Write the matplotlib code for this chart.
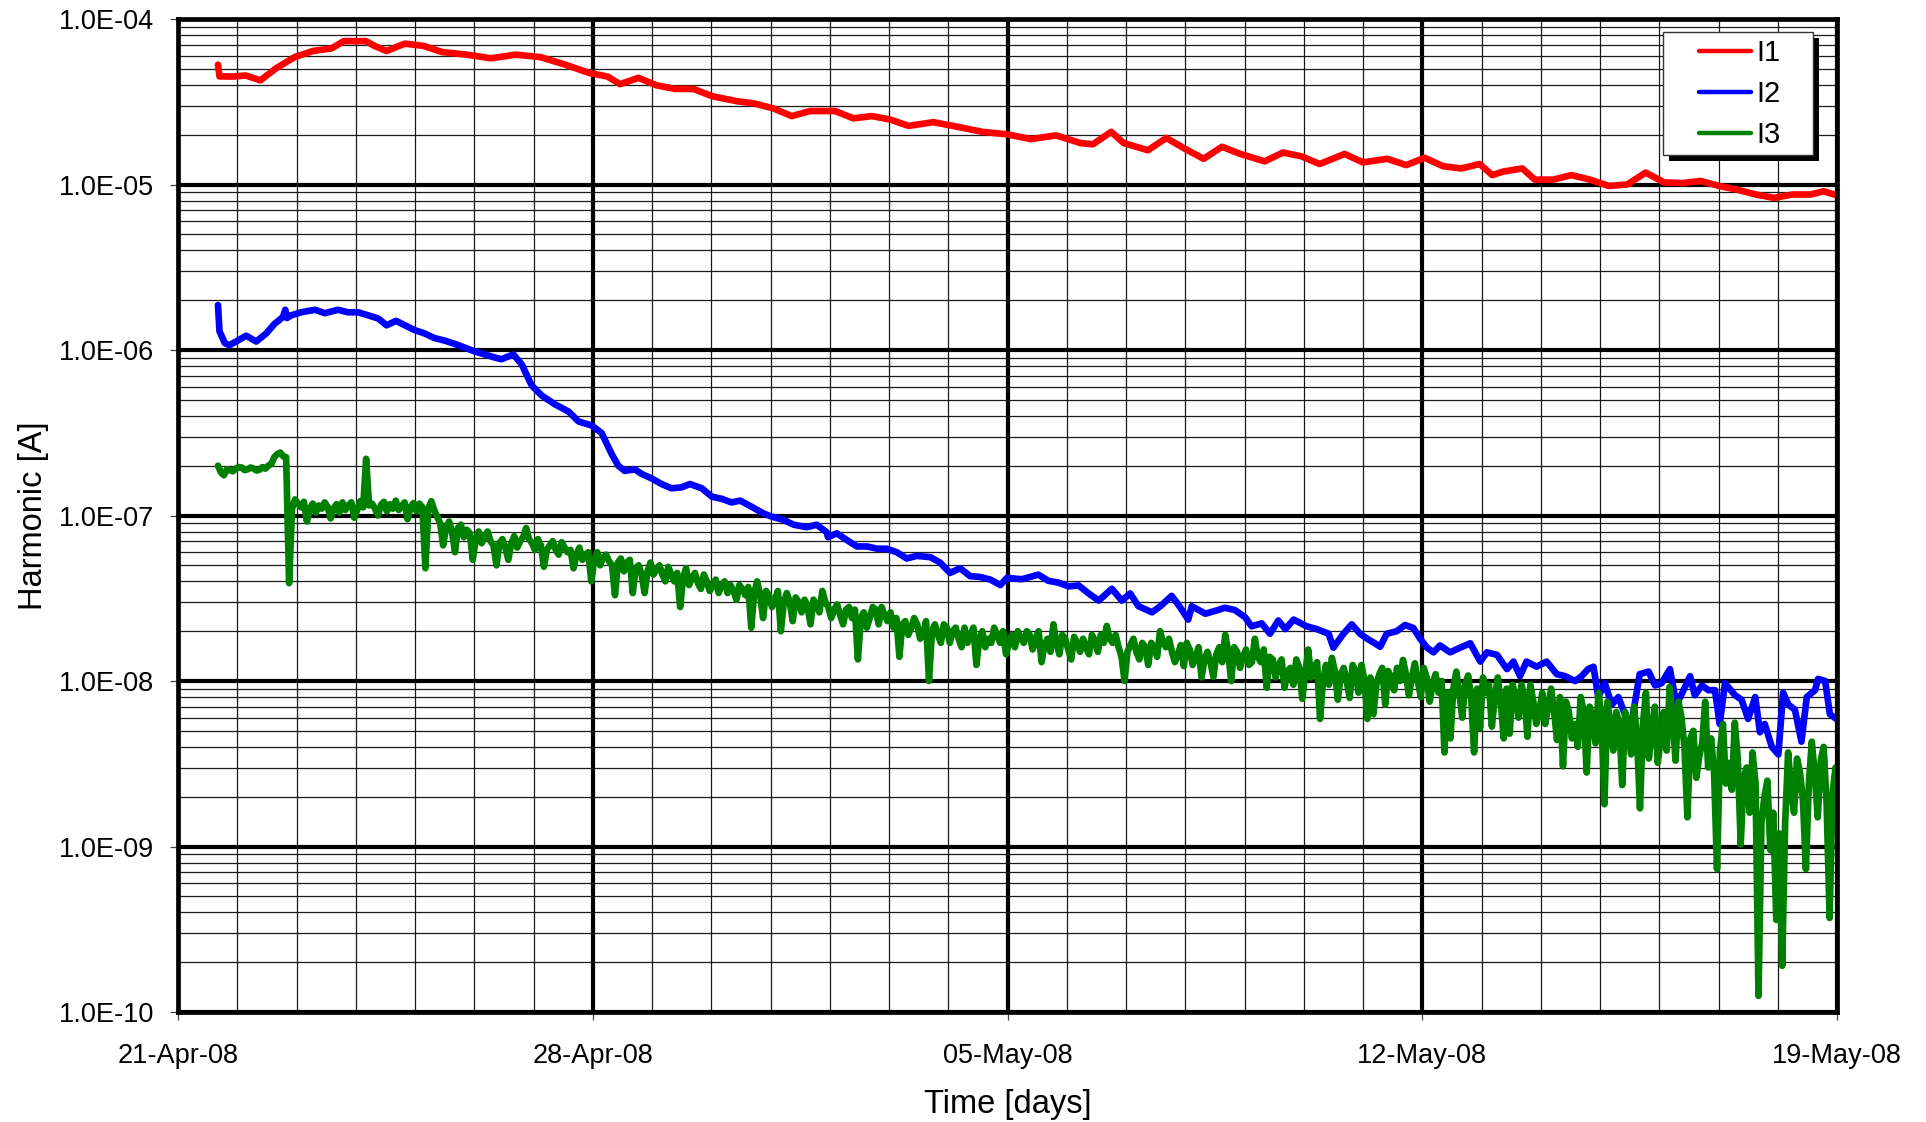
import numpy as np
import matplotlib
matplotlib.use("Agg")
import matplotlib.pyplot as plt
import matplotlib.dates as mdates
from matplotlib.ticker import LogLocator, FuncFormatter, FixedLocator, MultipleLocator, NullFormatter
from matplotlib.patches import Rectangle
from matplotlib.lines import Line2D
from datetime import datetime

plt.rcParams['font.family'] = ['Liberation Sans', 'DejaVu Sans']

# ---------------------------------------------------------------- data
START = datetime(2008, 4, 21)          # left edge of the time axis
SPAN_DAYS = 28
week_ticks = [0, 7, 14, 21, 28]         # labelled dates (days after START)

series_names = ["I1", "I2", "I3"]
series_colors = ["#FF0000", "#0000FF", "#008000"]

# I1 - elapsed days / amplitude in microampere
i1_day = [0.675, 0.70, 0.93, 1.14, 1.39, 1.66, 1.97, 2.28, 2.59, 2.80,
          3.17, 3.32, 3.52, 3.83, 4.15, 4.46, 4.87, 5.28, 5.70, 6.11,
          6.53, 6.94, 7.25, 7.46, 7.77, 8.08, 8.39, 8.70, 9.02, 9.43,
          9.74, 10.05, 10.36, 10.67, 11.09, 11.40, 11.71, 12.02, 12.33, 12.75,
          13.16, 13.58, 13.99, 14.40, 14.82, 15.23, 15.44, 15.75, 15.96, 16.37,
          16.68, 17.00, 17.31, 17.62, 17.93, 18.34, 18.65, 18.96, 19.27, 19.69,
          20.00, 20.41, 20.73, 21.04, 21.35, 21.66, 21.97, 22.18, 22.38, 22.69,
          22.90, 23.21, 23.52, 23.83, 24.15, 24.46, 24.77, 25.08, 25.39, 25.70,
          26.01, 26.32, 26.63, 26.94, 27.25, 27.56, 27.77, 28.00]
i1_uA = [53, 45, 44.9, 45.6, 42.6, 50.5, 58.9, 64.1, 66.4, 73.5,
         73.5, 68.7, 64.1, 71, 68.7, 63.1, 60.9, 57.9, 60.9, 58.9,
         53.1, 47.2, 44.9, 40.4, 44.1, 39.7, 37.8, 37.8, 34.1, 31.9,
         30.8, 28.8, 25.9, 27.8, 27.8, 25.1, 25.9, 24.7, 22.6, 23.8,
         22.3, 20.8, 20.1, 18.8, 19.8, 17.8, 17.5, 20.8, 17.8, 16.1,
         19.1, 16.4, 14.3, 16.9, 15.3, 13.8, 15.6, 14.8, 13.3, 15.3,
         13.6, 14.3, 13.1, 14.5, 12.9, 12.5, 13.3, 11.4, 12.0, 12.5,
         10.7, 10.7, 11.4, 10.7, 9.8, 10.0, 11.8, 10.3, 10.2, 10.5,
         9.8, 9.3, 8.7, 8.3, 8.7, 8.7, 9.1, 8.6]

# I2 - elapsed days / amplitude in nanoampere
i2_day = [0.675, 0.70, 0.79, 0.87, 0.98, 1.15, 1.32, 1.49, 1.63, 1.77,
          1.81, 1.84, 1.91, 2.08, 2.31, 2.48, 2.70, 2.87, 3.04, 3.21,
          3.38, 3.52, 3.68, 3.83, 3.99, 4.16, 4.33, 4.50, 4.70, 5.01,
          5.35, 5.46, 5.66, 5.80, 5.97, 6.14, 6.36, 6.59, 6.76, 6.98,
          7.15, 7.32, 7.43, 7.54, 7.71, 7.83, 8.00, 8.16, 8.33, 8.50,
          8.64, 8.84, 9.01, 9.18, 9.34, 9.49, 9.66, 9.88, 10.00, 10.22,
          10.39, 10.61, 10.78, 10.95, 10.97, 11.12, 11.29, 11.46, 11.63, 11.80,
          11.96, 12.13, 12.30, 12.47, 12.70, 12.86, 13.03, 13.20, 13.37, 13.54,
          13.71, 13.88, 13.99, 14.24, 14.52, 14.69, 14.86, 15.03, 15.20, 15.37,
          15.54, 15.76, 15.93, 16.07, 16.21, 16.44, 16.60, 16.77, 16.89, 17.05,
          17.11, 17.34, 17.50, 17.67, 17.84, 18.01, 18.12, 18.29, 18.43, 18.57,
          18.69, 18.83, 19.05, 19.22, 19.42, 19.50, 19.67, 19.81, 19.95, 20.06,
          20.20, 20.29, 20.40, 20.57, 20.71, 20.85, 20.96, 21.08, 21.19, 21.30,
          21.47, 21.64, 21.81, 21.98, 22.09, 22.26, 22.43, 22.54, 22.65, 22.76,
          22.93, 23.10, 23.27, 23.41, 23.58, 23.69, 23.80, 23.89, 23.97, 24.08,
          24.20, 24.31, 24.45, 24.53, 24.67, 24.82, 24.93, 25.04, 25.18, 25.29,
          25.41, 25.52, 25.60, 25.72, 25.83, 25.94, 26.02, 26.11, 26.28, 26.39,
          26.50, 26.62, 26.70, 26.78, 26.90, 27.01, 27.09, 27.18, 27.29, 27.40,
          27.49, 27.63, 27.68, 27.80, 27.88, 27.99]
i2_nA = [1870, 1300, 1100, 1070, 1125, 1220, 1125, 1260, 1440, 1580,
         1750, 1560, 1620, 1690, 1750, 1670, 1750, 1690, 1690, 1620,
         1550, 1410, 1500, 1410, 1320, 1260, 1180, 1140, 1080, 980,
         900, 880, 940, 820, 610, 530, 470, 425, 370, 350,
         315, 235, 200, 186, 190, 178, 167, 155, 146, 148,
         155, 146, 130, 126, 120, 123, 114, 103, 99, 94,
         88, 85, 88, 79, 74, 78, 71, 65, 65, 63,
         63, 60, 55, 57, 56, 52, 45, 48, 43, 42.5,
         41, 38, 42, 41.2, 43.9, 40.3, 39.3, 37.3, 37.8, 33.8,
         30.6, 36.1, 30.6, 33.8, 28.3, 26, 28.7, 32.7, 28.7, 23.5,
         28.3, 25.5, 26.5, 27.7, 26.8, 24.3, 21.4, 22.3, 19.3, 23.2,
         20.6, 23.5, 21.4, 20.6, 19.3, 15.9, 19.3, 22, 19.3, 18.1,
         16.9, 16.1, 19.3, 20, 21.8, 20.9, 18.1, 15.9, 14.9, 16.4,
         14.9, 15.9, 16.9, 13.1, 14.9, 14.4, 11.8, 13.1, 10.7, 13.1,
         12.2, 13.1, 11.0, 10.7, 10, 10.7, 11.8, 12.2, 8.0, 9.7,
         7.2, 8.0, 5.9, 5.5, 11.0, 11.4, 9.4, 9.7, 11.8, 7.2,
         8.8, 10.7, 8.2, 9.4, 8.8, 8.8, 5.5, 9.7, 8.2, 7.7,
         5.9, 8.0, 4.9, 5.5, 4.0, 3.6, 8.5, 7.2, 6.7, 4.3,
         8.0, 8.8, 10.3, 10, 6.3, 5.9]

# I3 - logger samples every 0.05 day from the first reading, in nanoampere
i3_first_day = 0.675
i3_interval_day = 0.05
i3_nA = [200, 182, 175, 190, 188, 185, 192, 196, 195, 188,
         190, 195, 192, 187, 189, 196, 192, 200, 205, 225,
         235, 240, 228, 225, 39, 110, 125, 118, 112, 121,
         92, 110, 118, 104, 115, 110, 120, 113, 96, 110,
         117, 104, 120, 108, 115, 120, 97, 108, 122, 112,
         220, 115, 118, 110, 100, 116, 121, 106, 117, 110,
         123, 108, 114, 120, 95, 112, 119, 106, 118, 112,
         48, 110, 122, 108, 98, 90, 66, 85, 92, 80,
         60, 84, 88, 74, 82, 78, 54, 72, 80, 68,
         74, 80, 70, 66, 50, 68, 72, 64, 54, 68,
         75, 64, 70, 74, 84, 72, 68, 62, 72, 66,
         49, 62, 66, 70, 62, 58, 69, 64, 60, 62,
         48, 58, 64, 54, 58, 60, 40, 54, 60, 50,
         56, 58, 53, 50, 33, 52, 55, 46, 52, 54,
         34, 48, 50, 44, 34, 46, 52, 44, 47, 50,
         44, 40, 49, 44, 40, 45, 28, 42, 48, 38,
         42, 45, 39, 36, 44, 40, 35, 38, 41, 34,
         38, 40, 34, 38, 35, 31, 38, 36, 33, 37,
         21, 34, 40, 33, 24, 35, 33, 28, 31, 35,
         20, 30, 34, 30, 23, 32, 30, 26, 31, 28,
         22, 31, 29, 26, 35, 30, 28, 24, 27, 29,
         25, 22, 27, 28, 24, 27, 13.5, 24, 26, 21,
         24, 28, 27, 22, 28, 25, 23, 26, 21, 24,
         14, 22, 23, 19, 21, 24, 22, 18, 19, 23,
         10, 20, 22, 19, 17, 22, 21, 17, 20, 21,
         18, 16, 21, 17, 19, 21, 12.5, 18, 20, 16,
         18, 17, 21, 19, 17, 20, 14.5, 17, 19, 16,
         20, 18, 17, 20, 19, 15.5, 18, 20, 13, 16.5,
         18, 15, 22, 17, 14.5, 19, 18, 15.5, 13.5, 18.5,
         17, 15, 18, 16, 14.5, 19, 17.5, 15, 19, 17,
         21.5, 18, 17, 19, 16, 14, 10, 15, 16.5, 18,
         15, 13.5, 17, 16, 12.5, 17, 16, 14, 20, 17,
         16, 18, 15, 13, 14.5, 16.5, 12.3, 17, 15.5, 12.5,
         14, 16, 10.5, 13.5, 15, 13, 10.6, 14.5, 16, 13,
         19, 15, 10, 16, 15, 12, 14, 15.5, 12.5, 13,
         18, 14, 13, 15.5, 9.1, 14, 13.5, 10.5, 12.5, 13.5,
         9.1, 11.5, 12, 9.5, 13.5, 12, 7.8, 11, 15.5, 10.5,
         12, 13, 5.9, 10, 12.5, 9.5, 13.8, 11.5, 7.7, 11,
         12, 10, 7.9, 12.5, 11.5, 8.5, 12.5, 10, 5.9, 10.5,
         6.3, 9.5, 11, 12, 7.2, 11.5, 10.5, 8.8, 12, 10,
         13.4, 11, 8.2, 10.5, 12.8, 10, 8, 12, 10.5, 7.5,
         9.5, 11, 8.5, 10, 3.7, 8.5, 4.5, 9, 11.4, 8.5,
         6, 9.5, 10.8, 8, 3.7, 9, 5.2, 10.5, 8.5, 9.5,
         5.3, 8, 10.5, 7.5, 4.5, 9, 4.8, 9.5, 8, 6,
         9.5, 8, 4.6, 9.5, 7.5, 5.5, 6.5, 8.5, 5.5, 7,
         9, 6.5, 4.4, 8, 3.05, 7.5, 6.5, 4.5, 5.5, 4,
         8, 6.5, 2.8, 7, 6, 4.2, 8.5, 6, 1.8, 7.5,
         5.5, 3.8, 6.5, 5.5, 2.35, 6.5, 5, 3.6, 7, 4.5,
         1.7, 5.5, 8.5, 3.4, 5, 7, 3.2, 4.5, 6.5, 3.8,
         9.2, 6, 3.3, 7.5, 6, 4, 1.5, 4.5, 5, 2.6,
         3.5, 4.2, 7.5, 3, 4.5, 2.8, 0.73, 3.8, 5.5, 2.4,
         3.2, 2.2, 5.6, 3.4, 1.03, 2.6, 3.0, 1.6, 3.7, 2.4,
         0.125, 1.4, 2.0, 2.5, 0.95, 1.6, 0.36, 1.2, 0.19, 1.4,
         3.7, 2.2, 1.6, 3.4, 2.8, 1.9, 0.73, 2.4, 4.3, 2.7,
         1.5, 3.3, 4.0, 1.8, 0.37, 2.1, 3.0]

# ---------------------------------------------------------------- series in SI units
base = mdates.date2num(START)
x1 = base + np.asarray(i1_day)
y1 = np.asarray(i1_uA) * 1e-6
x2 = base + np.asarray(i2_day)
y2 = np.asarray(i2_nA) * 1e-9
x3 = base + i3_first_day + i3_interval_day * np.arange(len(i3_nA))
y3 = np.asarray(i3_nA) * 1e-9

# ---------------------------------------------------------------- figure
W, H = 1926, 1122
fig = plt.figure(figsize=(W / 100, H / 100), dpi=100)
ax_l, ax_r, ax_t, ax_b = 178, 1837, 19, 1012
ax = fig.add_axes([ax_l / W, 1 - ax_b / H, (ax_r - ax_l) / W, (ax_b - ax_t) / H])

line_kw = dict(lw=4.8, solid_joinstyle="round", solid_capstyle="round")
for xs, ys, name, col in zip([x1, x2, x3], [y1, y2, y3], series_names, series_colors):
    ax.plot(xs, ys, color=col, label=name, **line_kw)

ax.set_yscale("log")
ax.set_ylim(1e-10, 1e-4)
ax.set_xlim(base, base + SPAN_DAYS)

# axis ticks and grid
ax.yaxis.set_major_locator(LogLocator(base=10, numticks=20))
ax.yaxis.set_minor_locator(LogLocator(base=10, subs=np.arange(2, 10), numticks=20))
ax.yaxis.set_major_formatter(FuncFormatter(lambda v, p: f"{v:.1E}"))
ax.yaxis.set_minor_formatter(NullFormatter())

ax.xaxis.set_major_locator(FixedLocator([base + d for d in week_ticks]))
ax.xaxis.set_minor_locator(MultipleLocator(1))
ax.xaxis.set_major_formatter(mdates.DateFormatter("%d-%b-%y"))
ax.xaxis.set_minor_formatter(NullFormatter())

ax.set_axisbelow(True)
ax.grid(which="major", color="black", lw=3.0)
ax.grid(which="minor", color="#1a1a1a", lw=0.9)

ax.tick_params(which="major", direction="out", length=6, width=0.9, color="#444",
               labelsize=19.5, labelcolor="black")
ax.tick_params(axis="y", which="major", pad=11)
ax.tick_params(axis="x", which="major", pad=16)
ax.tick_params(which="minor", length=0)

for sp in ax.spines.values():
    sp.set_linewidth(3.4)
    sp.set_color("black")

ax.set_xlabel("Time [days]", fontsize=23.5)
ax.set_ylabel("Harmonic [A]", fontsize=23.5)
ax.xaxis.set_label_coords(0.5, -0.0775)
ax.yaxis.set_label_coords(-0.078, 0.5)

# legend with a boxed frame and a drop shadow
fx0, fx1 = (1663 - ax_l) / (ax_r - ax_l), (1813 - ax_l) / (ax_r - ax_l)
fy1, fy0 = (ax_b - 32) / (ax_b - ax_t), (ax_b - 155) / (ax_b - ax_t)
sx, sy = 6 / (ax_r - ax_l), 6 / (ax_b - ax_t)
ax.add_patch(Rectangle((fx0 + sx, fy0 - sy), fx1 - fx0, fy1 - fy0, transform=ax.transAxes,
                       facecolor="black", edgecolor="none", zorder=4.7, clip_on=False))
ax.add_patch(Rectangle((fx0, fy0), fx1 - fx0, fy1 - fy0, transform=ax.transAxes,
                       facecolor="white", edgecolor="#333333", lw=1.0, zorder=4.8, clip_on=False))
handles = [Line2D([], [], color=c, lw=3.2, solid_capstyle="round") for c in series_colors]
leg = ax.legend(handles, series_names, loc="center",
                bbox_to_anchor=((1740 - ax_l) / (ax_r - ax_l), (ax_b - 94) / (ax_b - ax_t)),
                frameon=False, fontsize=21, handlelength=1.78, handletextpad=0.2,
                labelspacing=0.45, borderpad=0, borderaxespad=0)
leg.set_zorder(5)

fig.savefig("out.png", dpi=100)
